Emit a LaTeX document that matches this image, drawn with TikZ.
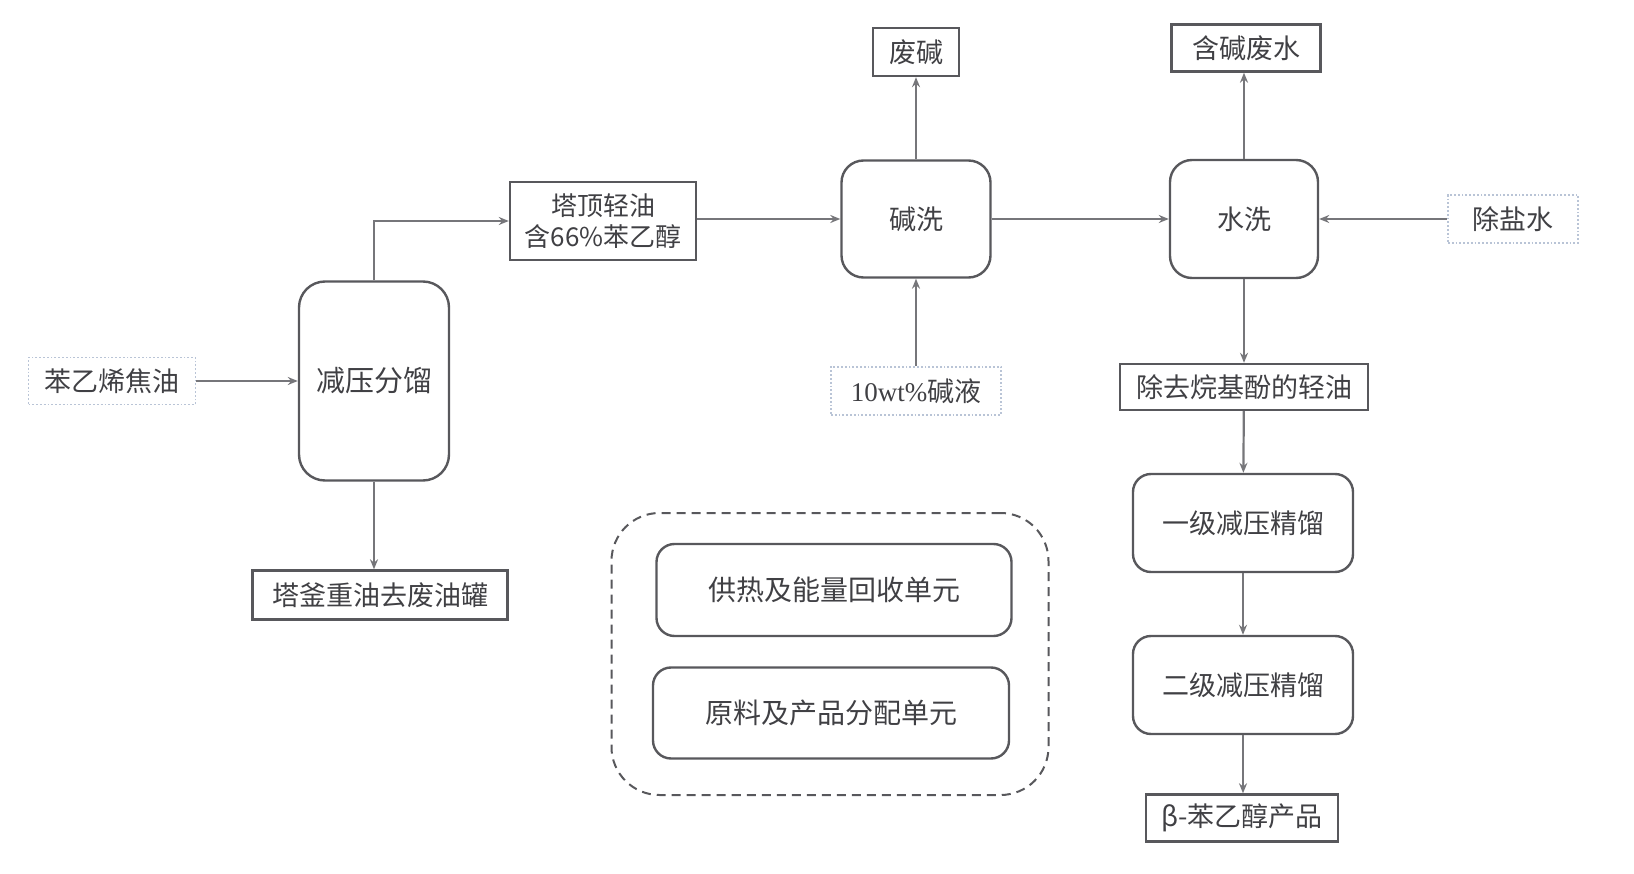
\documentclass[tikz,border=0pt]{standalone}
\usepackage{fontspec}
\usepackage{xcolor}
\usepackage{tikz}
\usetikzlibrary{positioning, arrows.meta}
\newfontfamily\cjk{Noto Sans CJK SC}
\newfontfamily\numserif{Liberation Serif}
\definecolor{lineGray}{RGB}{118, 118, 122}
\definecolor{boxGray}{RGB}{88, 88, 92}
\definecolor{txtGray}{RGB}{64, 64, 68}
\definecolor{feedBlue}{RGB}{185, 196, 214}

\begin{document}
\begin{tikzpicture}[
    x=1pt, y=-1pt,
    font=\cjk\fontsize{27}{31}\selectfont\color{txtGray},
    unit/.style={rectangle, rounded corners=22pt, draw=boxGray, line width=2.4pt, inner sep=0pt},
    stream/.style={rectangle, draw=boxGray, line width=2.4pt, inner sep=0pt, minimum height=47pt},
    feed/.style={rectangle, draw=feedBlue, line width=1.8pt, dotted, inner sep=0pt, minimum height=47pt},
    arr/.style={-{Stealth[length=10pt, width=8pt]}, line width=2.2pt, lineGray}
]
\useasboundingbox (0,0) rectangle (1634,874);

% feed and vacuum fractionation
\node[feed, minimum width=167pt] (tar) at (112,381) {苯乙烯焦油};
\node[unit, rounded corners=26pt, minimum width=150pt, minimum height=199pt, font=\cjk\fontsize{29}{33}\selectfont\color{txtGray}] (frac) at (374,381) {减压分馏};
\node[stream, minimum width=186pt, minimum height=78pt, align=center, font=\cjk\fontsize{26}{30}\selectfont\color{txtGray}] (light) at (603,221) {塔顶轻油\\[1pt]含66\%苯乙醇};
\node[stream, minimum width=255pt, minimum height=49pt] (heavy) at (380,595) {塔釜重油去废油罐};

% caustic wash
\node[unit, minimum width=149pt, minimum height=117pt] (caus) at (916,219) {碱洗};
\node[stream, minimum width=86pt, minimum height=48pt] (wcaus) at (916,52) {废碱};
\node[feed, minimum width=170pt, minimum height=48pt] (lye) at (916,391) {{\numserif 10wt\%}碱液};

% water wash
\node[unit, minimum width=148pt, minimum height=118pt] (wash) at (1244,219) {水洗};
\node[stream, minimum width=149pt] (wwater) at (1246,48) {含碱废水};
\node[feed, minimum width=130pt, minimum height=48pt] (demin) at (1513,219) {除盐水};
\node[stream, minimum width=248pt, minimum height=46pt] (oil) at (1244,387) {除去烷基酚的轻油};

% rectification
\node[unit, rounded corners=18pt, minimum width=220pt, minimum height=98pt] (rect1) at (1243,523) {一级减压精馏};
\node[unit, rounded corners=18pt, minimum width=220pt, minimum height=98pt] (rect2) at (1243,685) {二级减压精馏};
\node[stream, minimum width=192pt] (prod) at (1242,818) {β-苯乙醇产品};

% utility units
\node[rectangle, rounded corners=48pt, draw=boxGray, line width=2pt, dash pattern=on 9pt off 6pt, minimum width=437pt, minimum height=282pt, inner sep=0pt] (util) at (830,654) {};
\node[unit, rounded corners=18pt, minimum width=355pt, minimum height=92pt, font=\cjk\fontsize{28}{32}\selectfont\color{txtGray}] (heat) at (834,590) {供热及能量回收单元};
\node[unit, rounded corners=18pt, minimum width=356pt, minimum height=91pt, font=\cjk\fontsize{28}{32}\selectfont\color{txtGray}] (dist) at (831,713) {原料及产品分配单元};

\draw[arr] (tar) -- (frac);
\draw[arr] (frac.north) |- (light.west);
\draw[arr] (frac.south) -- (frac.south |- heavy.north);
\draw[arr] (light.east |- caus.west) -- (caus.west);
\draw[arr] (caus) -- (wcaus);
\draw[arr] (lye) -- (caus);
\draw[arr] (caus) -- (wash);
\draw[arr] (demin) -- (wash);
\draw[arr] (wash.north) -- (wash.north |- wwater.south);
\draw[arr] (wash) -- (oil);
\draw[arr] (oil) -- (rect1);
\draw[arr] (rect1) -- (rect2);
\draw[arr] (rect2.south) -- (rect2.south |- prod.north);
\end{tikzpicture}
\end{document}
